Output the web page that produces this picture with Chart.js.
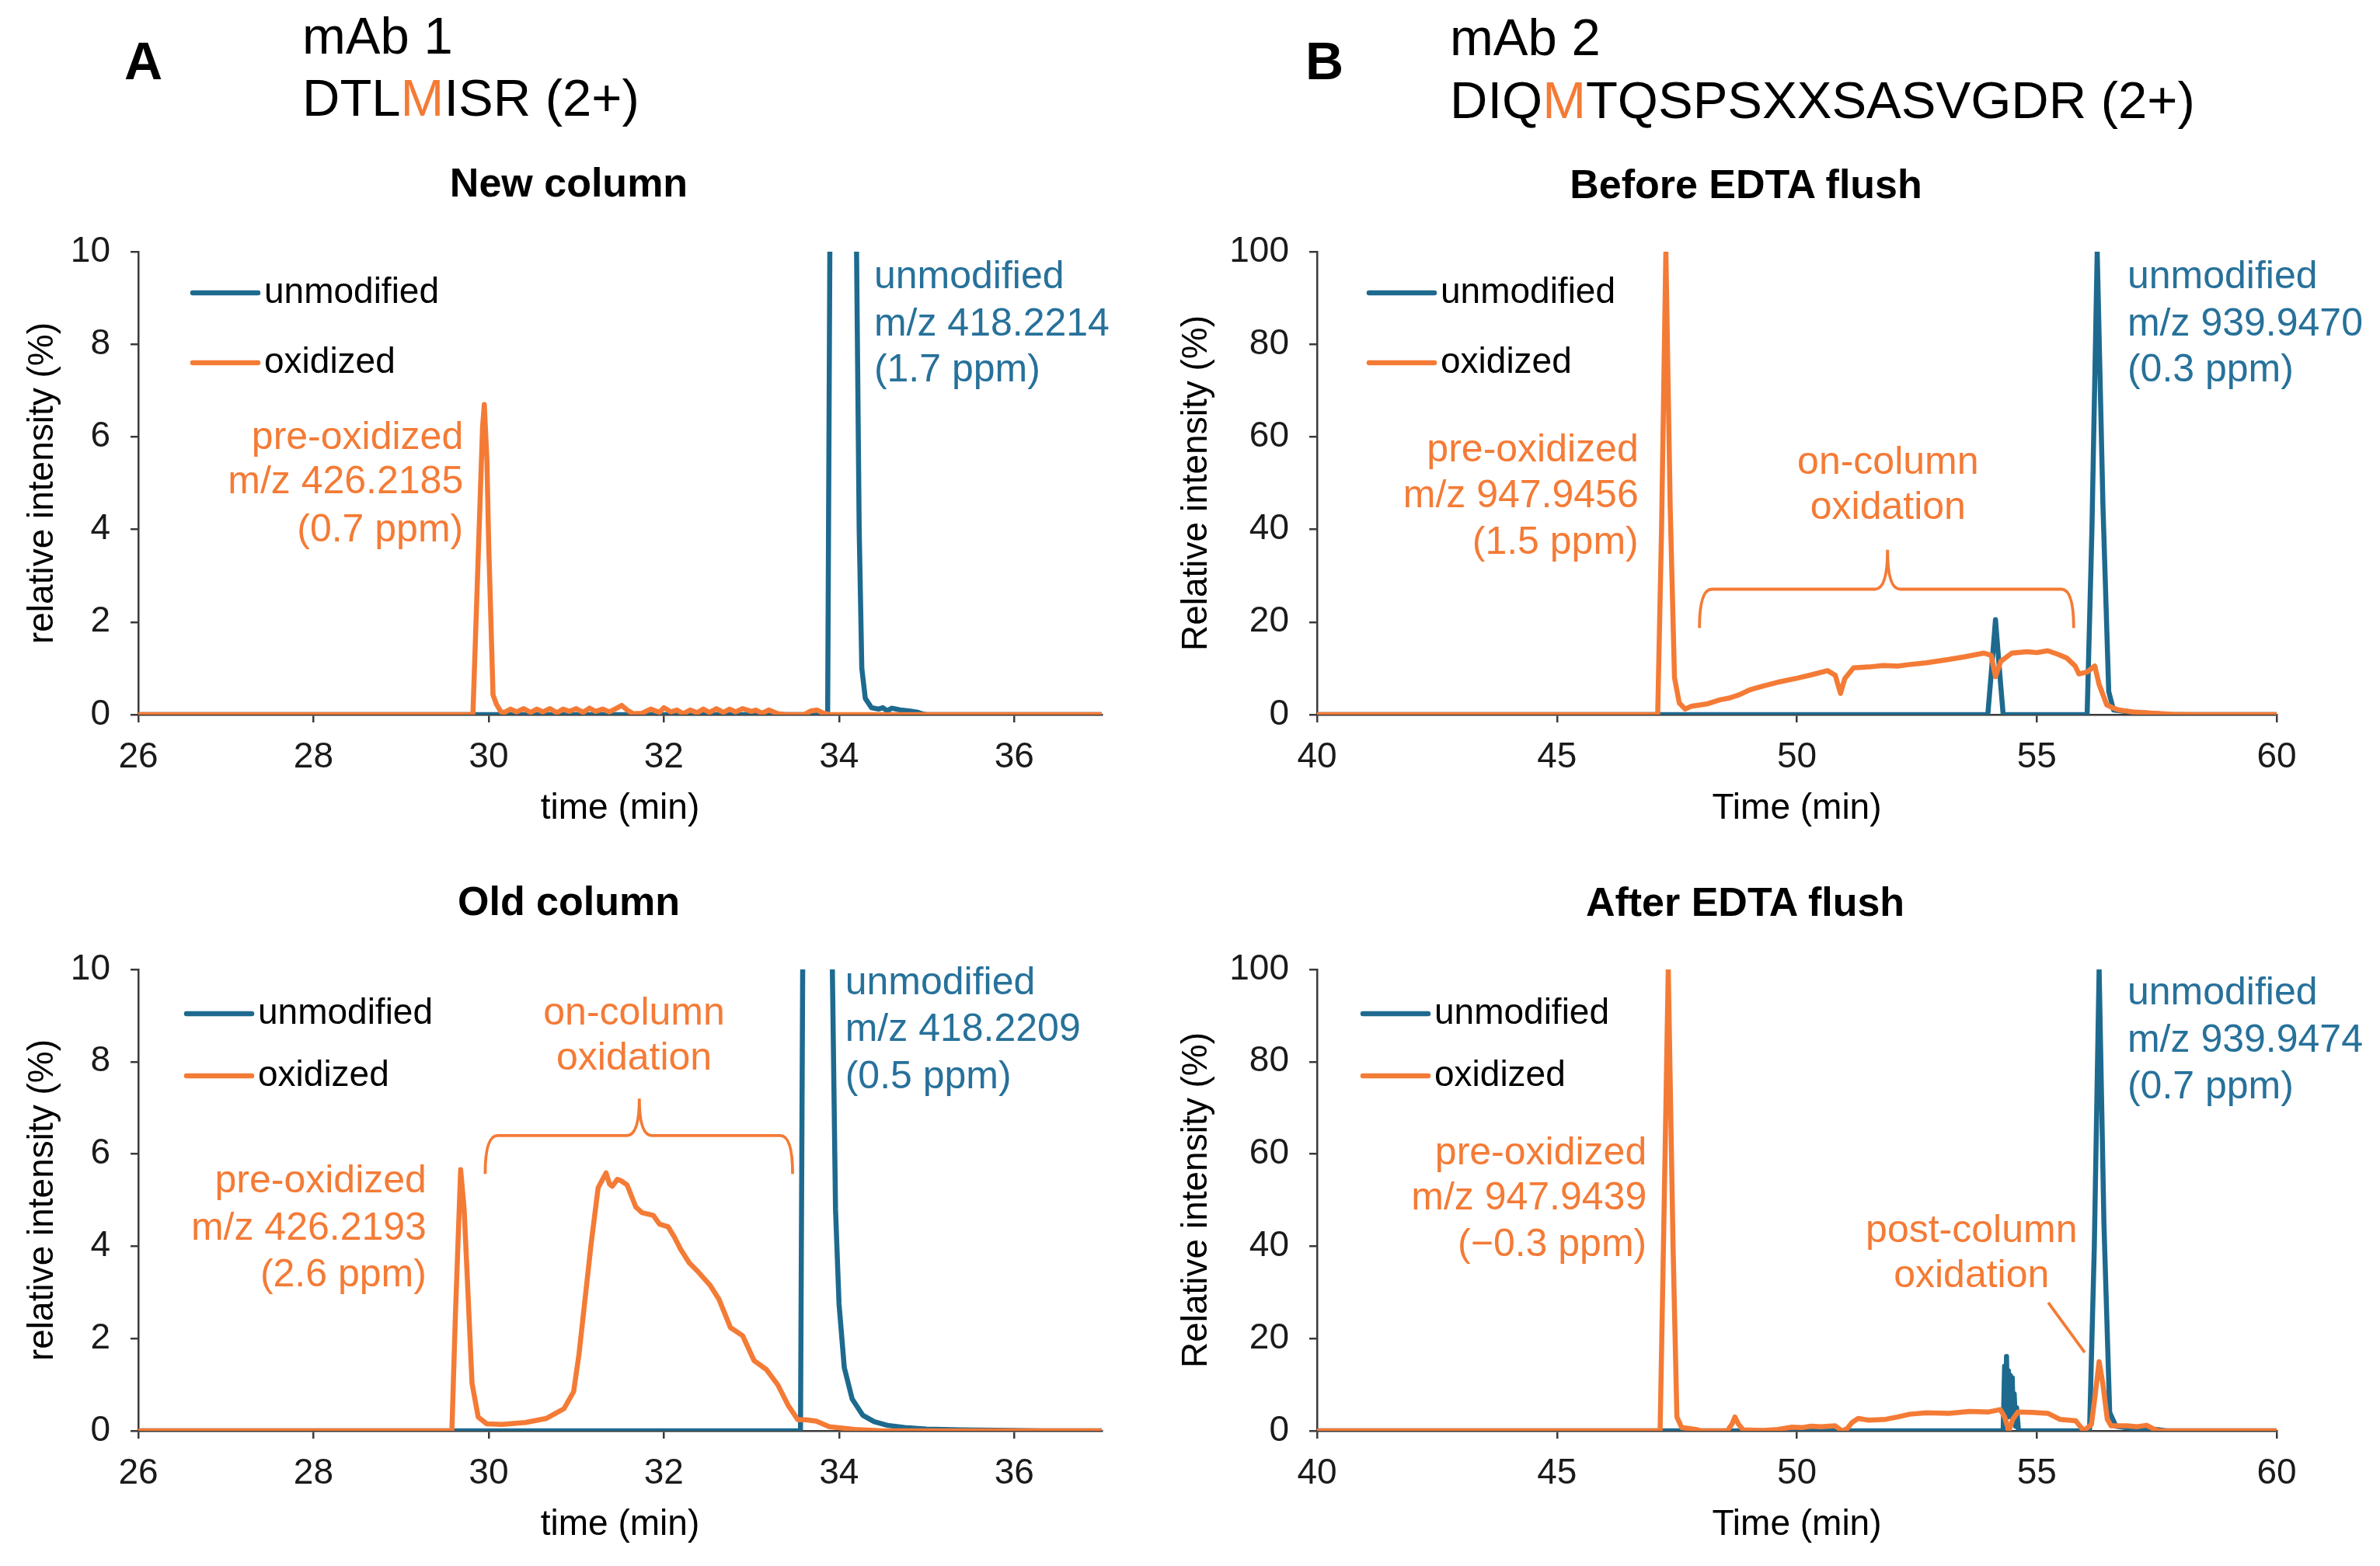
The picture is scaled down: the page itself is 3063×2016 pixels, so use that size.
<!DOCTYPE html>
<html>
<head>
<meta charset="utf-8">
<script src="https://cdn.jsdelivr.net/npm/chart.js@4.4.1/dist/chart.umd.min.js"></script>
<style>
html, body { margin: 0; padding: 0; background: #fff; }
body { width: 3063px; height: 2016px; position: relative; overflow: hidden;
       font-family: 'Liberation Sans', Arial, sans-serif; }
.hdr { position: absolute; white-space: nowrap; color: #000; line-height: 1; font-size: 67px; }
.big { font-weight: bold; font-size: 68px; }
.ttl { position: absolute; white-space: nowrap; font-weight: bold; font-size: 52px; line-height: 1;
       transform: translate(-50%, -50%); color: #000; }
.m { color: #F47B36; }
canvas { position: absolute; }
</style>
</head>
<body>
<div class="hdr big" style="left:160px; top:44px;">A</div>
<div class="hdr" style="left:389px; top:12px;">mAb 1</div>
<div class="hdr" style="left:389px; top:92px;">DTL<span class="m">M</span>ISR (2+)</div>
<div class="hdr big" style="left:1680px; top:44px;">B</div>
<div class="hdr" style="left:1866px; top:14px;">mAb 2</div>
<div class="hdr" style="left:1866px; top:95px;">DIQ<span class="m">M</span>TQSPSXXSASVGDR (2+)</div>

<div class="ttl" style="left:732px; top:235px;">New column</div>
<div class="ttl" style="left:2247px; top:237px;">Before EDTA flush</div>
<div class="ttl" style="left:732px; top:1160px;">Old column</div>
<div class="ttl" style="left:2246px; top:1161px;">After EDTA flush</div>

<canvas id="newCol"></canvas>
<canvas id="oldCol"></canvas>
<canvas id="beforeEdta"></canvas>
<canvas id="afterEdta"></canvas>

<script>
const BLUE = '#1E6A8F';
const ORANGE = '#F47B36';
const BLUE_TEXT = '#27719A';
const AXIS = '#3a3a3a';
const FONT = "'Liberation Sans', Arial, sans-serif";

// mAb 1, new column (time in min, relative intensity in %)
const newColUnmodT = [26, 33.87, 33.9, 34.05, 34.2, 34.23, 34.26, 34.3, 34.37, 34.45, 34.5, 34.55, 34.6, 34.7, 34.8, 34.9, 34.95, 35.0, 37];
const newColUnmodY = [0, 0, 12, 100, 10, 4, 1, 0.35, 0.15, 0.12, 0.15, 0.08, 0.14, 0.1, 0.08, 0.05, 0.02, 0, 0];
const newColOxT = [26, 29.82, 29.93, 29.95, 29.98, 30.0, 30.05, 30.09, 30.14, 30.18, 30.25, 30.32, 30.4, 30.48, 30.55, 30.62, 30.7, 30.78, 30.85, 30.92, 31.0, 31.08, 31.15, 31.22, 31.3, 31.38, 31.45, 31.52, 31.58, 31.65, 31.75, 31.85, 31.95, 32.0, 32.08, 32.15, 32.22, 32.3, 32.38, 32.45, 32.52, 32.6, 32.68, 32.75, 32.82, 32.9, 33.0, 33.05, 33.12, 33.2, 33.3, 33.4, 33.6, 33.68, 33.75, 33.82, 33.9, 37];
const newColOxY = [0, 0, 6.2, 6.7, 5.5, 3.7, 0.42, 0.22, 0.06, 0.05, 0.12, 0.06, 0.13, 0.05, 0.12, 0.06, 0.13, 0.04, 0.12, 0.07, 0.13, 0.05, 0.14, 0.07, 0.12, 0.06, 0.13, 0.2, 0.1, 0.02, 0.03, 0.12, 0.05, 0.15, 0.06, 0.1, 0.02, 0.1, 0.04, 0.12, 0.05, 0.13, 0.05, 0.12, 0.06, 0.13, 0.07, 0.1, 0.03, 0.1, 0.02, 0, 0, 0.08, 0.1, 0.03, 0, 0];

// mAb 1, old column
const oldColUnmodT = [26, 33.56, 33.59, 33.75, 33.91, 33.96, 34.0, 34.06, 34.15, 34.27, 34.4, 34.55, 34.75, 35.0, 35.4, 36.0, 36.3, 37];
const oldColUnmodY = [0, 0, 12, 100, 12, 4.8, 2.75, 1.37, 0.69, 0.34, 0.2, 0.12, 0.07, 0.04, 0.02, 0.01, 0, 0];
const oldColOxT = [26, 29.58, 29.62, 29.68, 29.72, 29.76, 29.81, 29.88, 29.98, 30.15, 30.42, 30.66, 30.86, 30.97, 31.03, 31.1, 31.17, 31.25, 31.34, 31.38, 31.41, 31.47, 31.51, 31.58, 31.68, 31.75, 31.88, 31.95, 32.05, 32.12, 32.19, 32.29, 32.39, 32.53, 32.63, 32.76, 32.9, 33.03, 33.17, 33.3, 33.42, 33.53, 33.62, 33.74, 33.89, 34.18, 34.5, 37];
const oldColOxY = [0, 0, 2.5, 5.66, 4.8, 3.15, 1.03, 0.3, 0.15, 0.14, 0.18, 0.27, 0.48, 0.85, 1.64, 2.85, 4.06, 5.27, 5.59, 5.35, 5.3, 5.45, 5.42, 5.33, 4.85, 4.73, 4.67, 4.48, 4.42, 4.2, 3.94, 3.64, 3.45, 3.15, 2.85, 2.24, 2.06, 1.52, 1.33, 1.0, 0.55, 0.24, 0.24, 0.21, 0.09, 0.03, 0, 0];

// mAb 2, before EDTA flush
const beforeUnmodT = [40, 53.98, 54.06, 54.14, 54.22, 54.3, 56.05, 56.15, 56.26, 56.38, 56.5, 56.6, 57.0, 57.5, 57.7, 60];
const beforeUnmodY = [0, 0, 10, 20.5, 10, 0, 0, 40, 100, 45, 5, 1, 0.5, 0.2, 0, 0];
const beforeOxT = [40, 47.1, 47.18, 47.27, 47.36, 47.45, 47.55, 47.67, 47.8, 48.12, 48.4, 48.6, 48.8, 49.03, 49.3, 49.6, 50.02, 50.3, 50.64, 50.8, 50.91, 51.0, 51.18, 51.5, 51.8, 52.1, 52.33, 52.7, 53.16, 53.5, 53.9, 54.05, 54.14, 54.25, 54.48, 54.8, 55.0, 55.23, 55.45, 55.63, 55.8, 55.88, 56.05, 56.21, 56.3, 56.46, 56.6, 56.71, 57.0, 57.45, 57.8, 58.2, 60];
const beforeOxY = [0, 0, 40, 100, 45, 8, 2.5, 1.2, 1.8, 2.3, 3.2, 3.6, 4.3, 5.4, 6.2, 7.0, 7.9, 8.6, 9.5, 8.5, 4.6, 7.8, 10.1, 10.3, 10.6, 10.5, 10.8, 11.2, 11.9, 12.5, 13.3, 12.8, 8.2, 11.5, 13.3, 13.6, 13.4, 13.8, 13.0, 12.2, 10.5, 8.8, 9.2, 10.5, 6.5, 2.1, 1.4, 1.0, 0.6, 0.3, 0.1, 0, 0];

// mAb 2, after EDTA flush
const afterUnmodT = [40, 54.3, 54.33, 54.35, 54.37, 54.39, 54.41, 54.43, 54.45, 54.47, 54.49, 54.51, 54.53, 54.56, 54.58, 54.62, 56.1, 56.2, 56.3, 56.4, 56.52, 56.65, 57.0, 57.5, 57.7, 60];
const afterUnmodY = [0, 0, 14, 2, 16.1, 3, 13, 4, 12, 3, 11.5, 2, 8, 1, 5, 0, 0, 40, 100, 45, 4, 1, 0.5, 0.3, 0, 0];
const afterOxT = [40, 47.15, 47.22, 47.32, 47.42, 47.5, 47.6, 47.9, 48.0, 48.55, 48.65, 48.71, 48.78, 48.88, 49.3, 49.6, 49.9, 50.1, 50.3, 50.5, 50.8, 50.9, 50.95, 51.05, 51.15, 51.28, 51.5, 51.85, 52.1, 52.35, 52.7, 53.17, 53.6, 54.0, 54.24, 54.33, 54.42, 54.5, 54.61, 54.9, 55.23, 55.48, 55.81, 55.92, 55.97, 56.05, 56.14, 56.22, 56.3, 56.38, 56.47, 56.55, 56.88, 57.1, 57.29, 57.4, 57.54, 60];
const afterOxY = [0, 0, 40, 100, 40, 3, 0.7, 0.3, 0, 0, 1.5, 3.0, 1.5, 0.2, 0.1, 0.3, 0.8, 0.7, 1.0, 0.9, 1.1, 0.3, 0, 0.5, 1.8, 2.7, 2.3, 2.5, 3.0, 3.6, 3.9, 3.8, 4.2, 4.1, 4.6, 3, 0, 2.5, 4.1, 4.0, 3.8, 2.5, 2.2, 0.8, 0, 0.6, 1.4, 8, 15, 10, 2.5, 1.1, 1.1, 0.9, 1.2, 0.6, 0, 0];

const LINE_W = 6.5;

const legendPlugin = {
  id: 'panelLegend',
  afterDraw(chart, args, o) {
    const { ctx, chartArea: a } = chart;
    ctx.save();
    chart.data.datasets.forEach((ds, i) => {
      const y = a.top + o.rows[i];
      const x0 = a.left + o.dx;
      ctx.strokeStyle = ds.borderColor;
      ctx.lineWidth = LINE_W;
      ctx.lineCap = 'round';
      ctx.beginPath();
      ctx.moveTo(x0, y);
      ctx.lineTo(x0 + 84, y);
      ctx.stroke();
      ctx.fillStyle = '#000';
      ctx.font = '46px ' + FONT;
      ctx.textBaseline = 'middle';
      ctx.textAlign = 'left';
      ctx.fillText(ds.label, x0 + 92, y);
    });
    ctx.restore();
  }
};

const notesPlugin = {
  id: 'panelNotes',
  afterDraw(chart, args, o) {
    const { ctx } = chart;
    const x = chart.scales.x, y = chart.scales.y;
    ctx.save();
    ctx.font = '50px ' + FONT;
    ctx.textBaseline = 'middle';
    (o.texts || []).forEach(n => {
      ctx.fillStyle = n.color;
      ctx.textAlign = n.align;
      n.lines.forEach((s, k) => ctx.fillText(s, x.getPixelForValue(n.t), y.getPixelForValue(n.v[k])));
    });
    ctx.strokeStyle = ORANGE;
    ctx.lineWidth = 3.8;
    (o.brackets || []).forEach(b => {
      const x0 = x.getPixelForValue(b.t0), x1 = x.getPixelForValue(b.t1), xm = x.getPixelForValue(b.tm);
      const yb = y.getPixelForValue(b.bar), ye = y.getPixelForValue(b.end), yp = y.getPixelForValue(b.peak);
      const r = 16;
      ctx.beginPath();
      ctx.moveTo(x0, ye);
      ctx.quadraticCurveTo(x0, yb, x0 + r, yb);
      ctx.lineTo(xm - r, yb);
      ctx.quadraticCurveTo(xm, yb, xm, yp);
      ctx.quadraticCurveTo(xm, yb, xm + r, yb);
      ctx.lineTo(x1 - r, yb);
      ctx.quadraticCurveTo(x1, yb, x1, ye);
      ctx.stroke();
    });
    (o.pointers || []).forEach(p => {
      ctx.beginPath();
      ctx.moveTo(x.getPixelForValue(p.t0), y.getPixelForValue(p.v0));
      ctx.lineTo(x.getPixelForValue(p.t1), y.getPixelForValue(p.v1));
      ctx.stroke();
    });
    ctx.restore();
  }
};

function points(ts, vs) {
  return ts.map((t, i) => ({ x: t, y: vs[i] }));
}

function makePanel(id, c) {
  const cv = document.getElementById(id);
  const f = c.frame, a = c.area;
  cv.width = f.w; cv.height = f.h;
  cv.style.left = f.x + 'px'; cv.style.top = f.y + 'px';
  const yW = a.l - f.x;
  const xH = 154;
  const tickFont = { family: FONT, size: 46 };
  new Chart(cv, {
    type: 'line',
    data: {
      datasets: [
        { label: 'unmodified', data: points(c.unmodT, c.unmodY), borderColor: BLUE, order: 1 },
        { label: 'oxidized', data: points(c.oxT, c.oxY), borderColor: ORANGE, order: 0 }
      ]
    },
    options: {
      responsive: false,
      animation: false,
      devicePixelRatio: 1,
      layout: { padding: { left: 0, top: a.t - f.y, right: f.x + f.w - a.r, bottom: f.y + f.h - a.b - xH } },
      elements: {
        point: { radius: 0 },
        line: { borderWidth: LINE_W, tension: 0, borderJoinStyle: 'round', borderCapStyle: 'round', fill: false }
      },
      plugins: {
        legend: { display: false },
        tooltip: { enabled: false },
        panelLegend: c.legend,
        panelNotes: c.notes
      },
      scales: {
        x: {
          type: 'linear', min: c.xRange[0], max: c.xRange[1],
          ticks: { stepSize: c.xRange[2], includeBounds: false, font: tickFont, color: '#1a1a1a', padding: 18, maxRotation: 0, autoSkip: false },
          grid: { drawOnChartArea: false, drawTicks: true, tickLength: 10, color: AXIS, lineWidth: 2.5 },
          border: { display: true, color: AXIS, width: 2.5 },
          title: { display: true, text: c.xTitle, font: tickFont, color: '#000', padding: { top: 0, bottom: 5.4 } },
          afterFit(s) { s.height = xH; s.paddingLeft = 0; s.paddingRight = 0; }
        },
        y: {
          min: c.yRange[0], max: c.yRange[1],
          ticks: { stepSize: c.yRange[2], font: tickFont, color: '#1a1a1a', padding: 26 },
          grid: { drawOnChartArea: false, drawTicks: true, tickLength: 10, color: AXIS, lineWidth: 2.5 },
          border: { display: true, color: AXIS, width: 2.5 },
          title: { display: true, text: c.yTitle, font: tickFont, color: '#000', padding: { top: c.yTitlePad, bottom: 0 } },
          afterFit(s) { s.width = yW; s.paddingTop = 0; s.paddingBottom = 0; }
        }
      }
    },
    plugins: [legendPlugin, notesPlugin]
  });
}

makePanel('newCol', {
  frame: { x: 0, y: 200, w: 1500, h: 900 },
  area: { l: 178, t: 324, r: 1418, b: 920 },
  xRange: [26, 37, 2], yRange: [0, 10, 2],
  xTitle: 'time (min)', yTitle: 'relative intensity (%)', yTitlePad: 27.4,
  unmodT: newColUnmodT, unmodY: newColUnmodY, oxT: newColOxT, oxY: newColOxY,
  legend: { dx: 70, rows: [53, 143] },
  notes: {
    texts: [
      { color: ORANGE, align: 'right', t: 29.71, v: [5.97, 5.02, 3.98], lines: ['pre-oxidized', 'm/z 426.2185', '(0.7 ppm)'] },
      { color: BLUE_TEXT, align: 'left', t: 34.40, v: [9.45, 8.42, 7.43], lines: ['unmodified', 'm/z 418.2214', '(1.7 ppm)'] }
    ]
  }
});

makePanel('oldCol', {
  frame: { x: 0, y: 1100, w: 1500, h: 916 },
  area: { l: 178, t: 1248, r: 1418, b: 1842 },
  xRange: [26, 37, 2], yRange: [0, 10, 2],
  xTitle: 'time (min)', yTitle: 'relative intensity (%)', yTitlePad: 27.4,
  unmodT: oldColUnmodT, unmodY: oldColUnmodY, oxT: oldColOxT, oxY: oldColOxY,
  legend: { dx: 62, rows: [57, 137] },
  notes: {
    texts: [
      { color: ORANGE, align: 'right', t: 29.29, v: [5.40, 4.38, 3.37], lines: ['pre-oxidized', 'm/z 426.2193', '(2.6 ppm)'] },
      { color: ORANGE, align: 'center', t: 31.66, v: [9.04, 8.06], lines: ['on-column', 'oxidation'] },
      { color: BLUE_TEXT, align: 'left', t: 34.07, v: [9.70, 8.69, 7.66], lines: ['unmodified', 'm/z 418.2209', '(0.5 ppm)'] }
    ],
    brackets: [{ t0: 29.96, t1: 33.47, tm: 31.72, bar: 6.4, end: 5.57, peak: 7.2 }]
  }
});

makePanel('beforeEdta', {
  frame: { x: 1500, y: 200, w: 1563, h: 900 },
  area: { l: 1695, t: 324, r: 2930, b: 920 },
  xRange: [40, 60, 5], yRange: [0, 100, 20],
  xTitle: 'Time (min)', yTitle: 'Relative intensity (%)', yTitlePad: 12.4,
  unmodT: beforeUnmodT, unmodY: beforeUnmodY, oxT: beforeOxT, oxY: beforeOxY,
  legend: { dx: 67, rows: [53, 143] },
  notes: {
    texts: [
      { color: ORANGE, align: 'right', t: 46.70, v: [57.0, 47.1, 37.1], lines: ['pre-oxidized', 'm/z 947.9456', '(1.5 ppm)'] },
      { color: ORANGE, align: 'center', t: 51.90, v: [54.4, 44.6], lines: ['on-column', 'oxidation'] },
      { color: BLUE_TEXT, align: 'left', t: 56.89, v: [94.5, 84.2, 74.3], lines: ['unmodified', 'm/z 939.9470', '(0.3 ppm)'] }
    ],
    brackets: [{ t0: 47.97, t1: 55.77, tm: 51.89, bar: 27.1, end: 18.7, peak: 35.6 }]
  }
});

makePanel('afterEdta', {
  frame: { x: 1500, y: 1100, w: 1563, h: 916 },
  area: { l: 1695, t: 1248, r: 2930, b: 1842 },
  xRange: [40, 60, 5], yRange: [0, 100, 20],
  xTitle: 'Time (min)', yTitle: 'Relative intensity (%)', yTitlePad: 12.4,
  unmodT: afterUnmodT, unmodY: afterUnmodY, oxT: afterOxT, oxY: afterOxY,
  legend: { dx: 59, rows: [57, 137] },
  notes: {
    texts: [
      { color: ORANGE, align: 'right', t: 46.87, v: [60.1, 50.3, 40.2], lines: ['pre-oxidized', 'm/z 947.9439', '(\u22120.3 ppm)'] },
      { color: ORANGE, align: 'center', t: 53.64, v: [43.3, 33.5], lines: ['post-column', 'oxidation'] },
      { color: BLUE_TEXT, align: 'left', t: 56.89, v: [94.8, 84.5, 74.4], lines: ['unmodified', 'm/z 939.9474', '(0.7 ppm)'] }
    ],
    pointers: [{ t0: 55.24, v0: 27.8, t1: 56.0, v1: 17.0 }]
  }
});
</script>
</body>
</html>
